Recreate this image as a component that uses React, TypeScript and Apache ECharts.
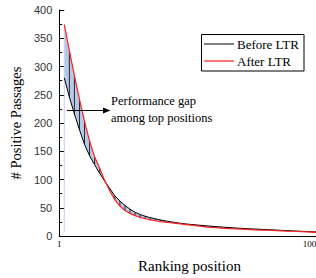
import React, { useEffect, useRef } from "react";
import * as echarts from "echarts";

const rank = [3, 5, 7, 9, 11, 13, 15, 17, 19, 21, 23, 25, 27, 29, 31, 33, 35, 37, 39, 41, 43, 45, 47, 49, 51, 53, 55, 57, 59, 61, 63, 65, 67, 69, 71, 73, 75, 77, 79, 81, 83, 85, 87, 89, 91, 93, 95, 97, 99, 101, 103];
const before = [280, 246, 216, 188, 162, 142, 126, 111, 97, 84, 71, 62, 54, 47.5, 42, 38, 35, 32.5, 30.5, 28.5, 26.7, 25.2, 23.8, 22.5, 21.4, 20.5, 19.7, 18.9, 18.1, 17.4, 16.7, 16, 15.3, 14.7, 14.1, 13.6, 13.1, 12.6, 12.2, 11.8, 11.3, 10.9, 10.5, 10, 9.6, 9.1, 8.7, 8.3, 7.9, 7.5, 7.1];
const after = [374, 328, 284, 242, 203, 168, 140, 120, 98, 80, 64, 53, 45, 40, 36, 33, 30.5, 28.5, 27, 25.5, 24.5, 23.5, 22.5, 21.3, 20.3, 19.3, 18.3, 17.2, 16, 15.2, 14.6, 14, 13.4, 12.9, 12.4, 12, 11.6, 11.2, 10.8, 10.5, 10.2, 9.8, 9.5, 9.1, 8.7, 8.4, 8, 7.6, 7.2, 6.8, 6.4];
const xLabels = [1, 100];
const seriesNames = ["Before LTR", "After LTR"];
const seriesColors = ["#000000", "#ff1f1f"];
const annotation = ["Performance gap", "among top positions"];

const SERIF = "Liberation Serif";
const SANS = "Liberation Sans";

export default function App() {
  const ref = useRef<HTMLDivElement>(null);
  useEffect(() => {
    if (!ref.current) return;
    const chart = echarts.init(ref.current, undefined, { renderer: "svg" });
    const legendItems: any[] = [
      {
        type: "rect",
        z: 20,
        shape: { x: 201.5, y: 34.5, width: 102.5, height: 36.5 },
        style: { fill: "#fff", stroke: "#000", lineWidth: 1 },
      },
    ];
    seriesNames.forEach((name, i) => {
      const y = 44 + i * 17;
      legendItems.push({
        type: "line",
        z: 21,
        shape: { x1: 204, y1: y, x2: 234, y2: y },
        style: { stroke: seriesColors[i], lineWidth: i === 0 ? 1 : 1.2 },
      });
      legendItems.push({
        type: "text",
        z: 21,
        x: 237,
        y,
        style: {
          text: name,
          fontFamily: SERIF,
          fontSize: 13,
          fill: "#000",
          verticalAlign: "middle",
          align: "left",
        },
      });
    });
    const option: any = {
      animation: false,
      grid: { left: 47, top: 10, bottom: 40, right: 10.4 },
      xAxis: {
        type: "value",
        min: 1,
        max: 104,
        axisLine: { lineStyle: { color: "#000", width: 1 } },
        axisTick: { show: false },
        splitLine: { show: false },
        axisLabel: {
          customValues: xLabels,
          fontFamily: SERIF,
          fontSize: 9,
          color: "#000",
          margin: 3,
        },
        name: "Ranking position",
        nameLocation: "middle",
        nameGap: 22,
        nameTextStyle: { fontFamily: SERIF, fontSize: 15, color: "#000" },
      },
      yAxis: {
        type: "value",
        min: 0,
        max: 400,
        interval: 50,
        axisLine: { show: true, lineStyle: { color: "#000", width: 1 } },
        axisTick: { show: true, inside: true, length: 5, lineStyle: { color: "#000" } },
        minorTick: { show: true, splitNumber: 2, length: 3, lineStyle: { color: "#000" } },
        splitLine: { show: false },
        axisLabel: { fontFamily: SANS, fontSize: 11, color: "#333", margin: 7 },
        name: "# Positive Passages",
        nameLocation: "middle",
        nameRotate: 90,
        nameGap: 28,
        nameTextStyle: { fontFamily: SERIF, fontSize: 14.5, color: "#000" },
      },
      series: [
        {
          type: "custom",
          name: "gap",
          z: 1,
          silent: true,
          data: [[rank[0], after[0]]],
          renderItem: (_params: any, api: any) => {
            const top = rank.map((x, i) => api.coord([x, after[i]]));
            const bot = rank.map((x, i) => api.coord([x, before[i]])).reverse();
            const children: any[] = [
              {
                type: "polygon",
                shape: { points: top.concat(bot) },
                style: { fill: "#b7c9e8", stroke: "none" },
              },
            ];
            const e1 = api.coord([rank[0], after[0]]);
            const e2 = api.coord([rank[0], after[after.length - 1]]);
            children.push({
              type: "line",
              shape: { x1: e1[0], y1: e1[1], x2: e2[0], y2: e2[1] },
              style: { stroke: "#c3d4f1", lineWidth: 1 },
            });
            rank.forEach((x, i) => {
              if (i === 0) return;
              const a = api.coord([x, after[i]]);
              const b = api.coord([x, before[i]]);
              children.push({
                type: "line",
                shape: { x1: a[0], y1: a[1], x2: b[0], y2: b[1] },
                style: { stroke: "#000", lineWidth: 0.8 },
              });
            });
            return { type: "group", children };
          },
        },
        {
          type: "line",
          name: seriesNames[0],
          z: 3,
          symbol: "none",
          data: rank.map((x, i) => [x, before[i]]),
          lineStyle: { color: seriesColors[0], width: 1 },
          itemStyle: { color: seriesColors[0] },
        },
        {
          type: "line",
          name: seriesNames[1],
          z: 3,
          symbol: "none",
          data: rank.map((x, i) => [x, after[i]]),
          lineStyle: { color: seriesColors[1], width: 1.2 },
          itemStyle: { color: seriesColors[1] },
        },
      ],
      graphic: [
        {
          type: "line",
          z: 10,
          shape: { x1: 67, y1: 110.5, x2: 104, y2: 110.5 },
          style: { stroke: "#000", lineWidth: 1 },
        },
        {
          type: "polygon",
          z: 10,
          shape: { points: [[103, 107.5], [110.5, 110.5], [103, 113.5]] },
          style: { fill: "#000" },
        },
        {
          type: "text",
          z: 10,
          x: 111,
          y: 92,
          style: {
            text: annotation.join("\n"),
            fontFamily: SERIF,
            fontSize: 12.5,
            lineHeight: 17,
            fill: "#000",
          },
        },
        ...legendItems,
      ],
    };
    chart.setOption(option);
    return () => chart.dispose();
  }, []);
  return (
    <div style={{ position: "absolute", left: 0, top: 0, width: 316, height: 278, overflow: "hidden", background: "#fff" }}>
      <div ref={ref} style={{ width: 330, height: 278 }} />
    </div>
  );
}
